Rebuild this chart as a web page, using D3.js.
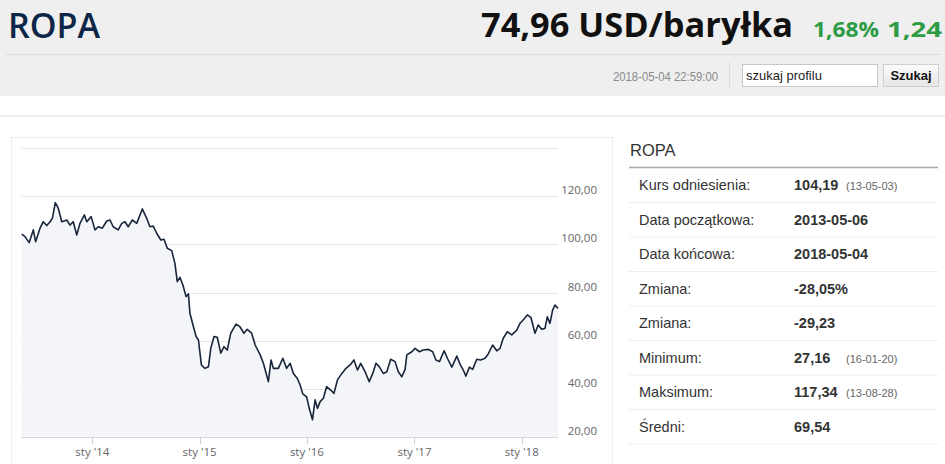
<!DOCTYPE html>
<html><head><meta charset="utf-8">
<script src="https://cdn.jsdelivr.net/npm/d3@7"></script>
<style>
html,body{margin:0;padding:0;background:#fff;}
svg{display:block;}
</style></head>
<body>
<svg id="c" width="945" height="464"></svg>
<script>
// ---- data ----
const dates = [
"2013-05-06","2013-05-17","2013-05-31","2013-06-14","2013-06-22","2013-07-07","2013-07-18","2013-07-30","2013-08-10","2013-08-18","2013-08-28","2013-09-07","2013-09-19","2013-10-06","2013-10-17","2013-10-28","2013-11-09","2013-11-20","2013-12-05","2013-12-13","2013-12-28",
"2014-01-10","2014-01-21","2014-02-04","2014-02-19","2014-03-02","2014-03-13","2014-03-30","2014-04-11","2014-04-22","2014-05-03","2014-05-17","2014-06-01","2014-06-20","2014-07-05","2014-07-16","2014-07-27","2014-08-08","2014-08-22","2014-09-02","2014-09-13","2014-09-28","2014-10-09","2014-10-17","2014-10-26","2014-11-05","2014-11-16","2014-11-24","2014-11-29","2014-12-11","2014-12-20","2014-12-28",
"2015-01-07","2015-01-19","2015-01-31","2015-02-08","2015-02-19","2015-03-02","2015-03-14","2015-03-25","2015-04-05","2015-04-17","2015-05-05","2015-05-18","2015-06-01","2015-06-12","2015-06-27","2015-07-09","2015-07-26","2015-08-06","2015-08-23","2015-09-01","2015-09-09","2015-09-26","2015-10-11","2015-10-24","2015-11-05","2015-11-16","2015-11-29","2015-12-09","2015-12-18","2015-12-31",
"2016-01-09","2016-01-20","2016-01-29","2016-02-06","2016-02-15","2016-02-26","2016-03-08","2016-03-22","2016-04-02","2016-04-14","2016-04-29","2016-05-13","2016-05-27","2016-06-09","2016-06-21","2016-07-02","2016-07-17","2016-07-31","2016-08-12","2016-08-23","2016-09-03","2016-09-17","2016-09-29","2016-10-12","2016-10-27","2016-11-07","2016-11-19","2016-11-30","2016-12-06","2016-12-23",
"2017-01-03","2017-01-18","2017-01-31","2017-02-17","2017-03-04","2017-03-15","2017-03-27","2017-04-12","2017-04-23","2017-05-08","2017-05-25","2017-06-05","2017-06-16","2017-06-25","2017-07-07","2017-07-18","2017-08-01","2017-08-14","2017-08-29","2017-09-09","2017-09-24","2017-10-08","2017-10-19","2017-10-30","2017-11-13","2017-11-28","2017-12-15","2017-12-26",
"2018-01-08","2018-01-20","2018-02-01","2018-02-15","2018-02-26","2018-03-10","2018-03-21","2018-03-29","2018-04-07","2018-04-16","2018-04-24","2018-05-04"];
const prices = [
104.2,103.2,100.7,106,101.1,106.7,109.4,107.8,109.4,110.8,117.3,115,109.4,110.1,108,109.4,103.9,108.7,112.2,109.4,111.5,
106,107.3,106.7,109.7,110.1,107.3,106,108.7,109.4,107.3,110.1,108.7,114.7,110.8,107.3,107.6,104.6,101.8,102.1,98.4,97.4,92.1,84.5,86.3,83.1,78.3,79.4,71.4,65.8,61.7,60.3,
49.9,48.5,49.2,56.8,61.7,61.4,54.8,57.5,56.1,63.1,66.9,65.8,63.1,64.7,63.1,58.2,54.1,50.6,43,52,48.5,48.5,52.7,48.5,50.6,46.4,44.4,41.6,37.9,36.7,
31.9,27.2,35.4,31.9,34.7,36.1,40.9,39.5,38.1,43.7,46.4,48.5,49.9,52,47.8,50.6,47.1,43,46.4,50.6,49.2,46.4,47.1,52.3,51.3,47.1,45,48.1,54.1,55.4,
56.8,55.4,56.1,56.4,55.4,52,51.3,55.8,52.7,49,53.6,50.3,47.8,45.3,49,48.1,52.3,52,52.7,54.5,58.2,55.8,56.8,61,63.7,62.4,64.4,67.2,
68.9,70.7,69.7,63.1,66.5,64.7,65.1,69.9,67.2,72.7,74.8,73.4];
const yTicks = [20,40,60,80,100,120,140];
const xTickDates = ["2014-01-01","2015-01-01","2016-01-01","2017-01-01","2018-01-01"];
const xTickLabels = ["sty '14","sty '15","sty '16","sty '17","sty '18"];
const statLabels = ["Kurs odniesienia:","Data początkowa:","Data końcowa:","Zmiana:","Zmiana:","Minimum:","Maksimum:","Średni:"];
const statValues = ["104,19","2013-05-06","2018-05-04","-28,05%","-29,23","27,16","117,34","69,54"];
const statNotes = ["(13-05-03)","","","","","(16-01-20)","(13-08-28)",""];
const title = "ROPA";
const priceText = "74,96 USD/baryłka";
const changePct = "1,68%";
const changeAbs = "1,24";
const stamp = "2018-05-04 22:59:00";

// ---- drawing ----
const svg = d3.select("#c");
const parse = d3.timeParse("%Y-%m-%d");
const data = dates.map((d,i)=>({date:parse(d), v:prices[i]}));

// header
svg.append("rect").attr("x",0).attr("y",0).attr("width",945).attr("height",96).attr("fill","#efefef");
svg.append("line").attr("x1",6).attr("x2",940).attr("y1",54.5).attr("y2",54.5).attr("stroke","#dcdcdc");
svg.append("text").attr("x",8).attr("y",38).text(title)
  .attr("font-family","'Open Sans',sans-serif").attr("font-weight",600).attr("font-size",34)
  .attr("fill","#0d2647").attr("textLength",92).attr("lengthAdjust","spacingAndGlyphs");
svg.append("text").attr("x",481).attr("y",37).text(priceText)
  .attr("font-family","'Open Sans',sans-serif").attr("font-weight",700).attr("font-size",34)
  .attr("fill","#111").attr("textLength",312).attr("lengthAdjust","spacingAndGlyphs");
svg.append("text").attr("x",813).attr("y",37).text(changePct)
  .attr("font-family","'Open Sans',sans-serif").attr("font-weight",700).attr("font-size",21)
  .attr("fill","#2e9b45").attr("textLength",66).attr("lengthAdjust","spacingAndGlyphs");
svg.append("text").attr("x",887).attr("y",37).text(changeAbs)
  .attr("font-family","'Open Sans',sans-serif").attr("font-weight",700).attr("font-size",21)
  .attr("fill","#2e9b45").attr("textLength",55).attr("lengthAdjust","spacingAndGlyphs");
svg.append("text").attr("x",718).attr("y",81).attr("text-anchor","end").text(stamp)
  .attr("font-family","'Liberation Sans Narrow','Liberation Sans',sans-serif").attr("font-size",12)
  .attr("fill","#8a8a8a").attr("textLength",105).attr("lengthAdjust","spacingAndGlyphs");
svg.append("line").attr("x1",729.5).attr("x2",729.5).attr("y1",62).attr("y2",89).attr("stroke","#dddddd");
svg.append("rect").attr("x",742.5).attr("y",64.5).attr("width",135).attr("height",22).attr("fill","#fff").attr("stroke","#c8c8c8");
svg.append("text").attr("x",746).attr("y",80).text("szukaj profilu")
  .attr("font-family","'Liberation Sans Narrow','Liberation Sans',sans-serif").attr("font-size",13).attr("fill","#222");
const grad = svg.append("defs").append("linearGradient").attr("id","btn").attr("x1",0).attr("x2",0).attr("y1",0).attr("y2",1);
grad.append("stop").attr("offset","0%").attr("stop-color","#fbfbfb");
grad.append("stop").attr("offset","100%").attr("stop-color","#e6e6e6");
svg.append("rect").attr("x",883.5).attr("y",64.5).attr("width",55).attr("height",22).attr("fill","url(#btn)").attr("stroke","#cfcfcf");
svg.append("text").attr("x",911).attr("y",80).attr("text-anchor","middle").text("Szukaj")
  .attr("font-family","'Liberation Sans Narrow','Liberation Sans',sans-serif").attr("font-weight",700).attr("font-size",13).attr("fill","#111");

svg.append("rect").attr("x",0).attr("y",115).attr("width",945).attr("height",2).attr("fill","#ececec");

// chart box
svg.append("rect").attr("x",11.5).attr("y",137.5).attr("width",601).attr("height",340).attr("fill","#fff").attr("stroke","#eeeeee");

const x = d3.scaleTime().domain([parse("2013-05-06"), parse("2018-05-04")]).range([21.8, 557.9]);
const y = d3.scaleLinear().domain([20,140]).range([437,148]);

// grid
const g = svg.append("g");
g.selectAll("line.grid").data(yTicks).join("line")
  .attr("x1",21).attr("x2",558).attr("y1",d=>Math.round(y(d))+0.5).attr("y2",d=>Math.round(y(d))+0.5)
  .attr("stroke",d=>d===20?"#d8d8d8":"#e6e6e6").attr("stroke-width",1);

// area + line
const area = d3.area().x(d=>x(d.date)).y0(y(20)).y1(d=>y(d.v));
g.append("path").datum(data).attr("d",area).attr("fill","#f4f5f8");
const line = d3.line().x(d=>x(d.date)).y(d=>y(d.v));
g.append("path").datum(data).attr("d",line).attr("fill","none").attr("stroke","#18253b").attr("stroke-width",1.6).attr("stroke-linejoin","round");

// y labels
g.selectAll("text.yl").data(yTicks.filter(d=>d<140)).join("text")
  .attr("x",597).attr("y",d=>y(d)-2).attr("text-anchor","end")
  .attr("font-family","'Open Sans',sans-serif").attr("font-size",11.5).attr("fill","#666")
  .text(d=>d3.format(".2f")(d).replace(".",","));

// x axis ticks & labels
const xt = xTickDates.map(parse);
g.selectAll("line.xt").data(xt).join("line")
  .attr("x1",d=>Math.round(x(d))+0.5).attr("x2",d=>Math.round(x(d))+0.5).attr("y1",437).attr("y2",444)
  .attr("stroke","#d0d0d0");
g.selectAll("text.xl").data(xt).join("text")
  .attr("x",d=>x(d)).attr("y",456).attr("text-anchor","middle")
  .attr("font-family","'Open Sans',sans-serif").attr("font-size",11.5).attr("fill","#666")
  .text((d,i)=>xTickLabels[i]);

// stats table
svg.append("text").attr("x",630).attr("y",156).text(title)
  .attr("font-family","'Liberation Sans',Arial,sans-serif").attr("font-size",16.5).attr("fill","#333");
svg.append("line").attr("x1",629).attr("x2",938).attr("y1",167.5).attr("y2",167.5).attr("stroke","#a8a8a8").attr("stroke-width",1.5);
const rowH = 34.5;
const rows = svg.append("g").selectAll("g").data(statLabels).join("g")
  .attr("transform",(d,i)=>`translate(0,${190 + i*rowH})`);
rows.append("text").attr("x",639).attr("y",0).text(d=>d)
  .attr("font-family","'Liberation Sans',Arial,sans-serif").attr("font-size",14.5).attr("fill","#333");
rows.append("text").attr("x",794).attr("y",0).text((d,i)=>statValues[i])
  .attr("font-family","'Liberation Sans',Arial,sans-serif").attr("font-weight",700).attr("font-size",14.5).attr("fill","#333");
rows.append("text").attr("x",846).attr("y",0).text((d,i)=>statNotes[i])
  .attr("font-family","'Liberation Sans',Arial,sans-serif").attr("font-size",11).attr("fill","#666");
rows.append("line").attr("x1",629).attr("x2",938).attr("y1",12.5).attr("y2",12.5).attr("stroke","#eeeeee");
</script>
</body></html>
